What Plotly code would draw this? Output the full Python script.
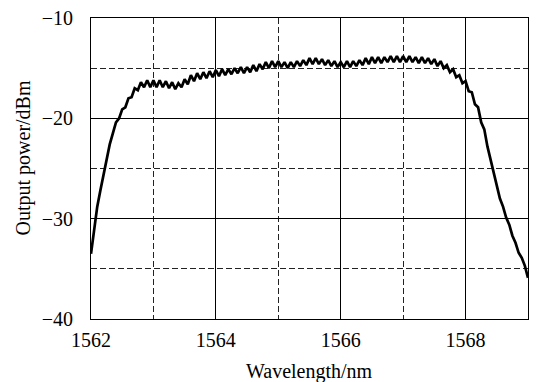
import plotly.graph_objects as go

# Sampling grid of the spectrum (nm), 0.05 nm steps from 1562 to 1569
wavelength = [round(1562 + 0.05 * i, 2) for i in range(141)]

# Output power (dBm)
power = [
    -33.5, -31.0, -28.8, -27.2, -25.6, -24.3, -22.6, -21.5, -20.4, -20.0,
    -19.1, -18.9, -18.0, -17.9, -17.0, -17.2, -16.4, -16.9, -16.2, -16.9,
    -16.2, -16.9, -16.2, -16.9, -16.3, -17.0, -16.4, -17.1, -16.5, -16.9,
    -16.1, -16.6, -15.7, -16.3, -15.5, -16.1, -15.4, -16.0, -15.3, -15.9,
    -15.2, -15.8, -15.1, -15.7, -15.1, -15.6, -15.0, -15.5, -14.9, -15.5,
    -14.9, -15.4, -14.7, -15.3, -14.6, -15.1, -14.4, -15.0, -14.3, -14.9,
    -14.3, -14.9, -14.4, -15.0, -14.4, -14.9, -14.3, -14.8, -14.2, -14.7,
    -14.0, -14.6, -14.0, -14.6, -14.1, -14.7, -14.2, -14.8, -14.3, -14.9,
    -14.4, -14.9, -14.3, -14.9, -14.3, -14.8, -14.2, -14.7, -14.0, -14.6,
    -13.9, -14.5, -13.9, -14.5, -13.9, -14.4, -13.8, -14.4, -13.8, -14.4,
    -13.8, -14.4, -13.8, -14.4, -13.9, -14.5, -13.9, -14.5, -14.0, -14.6,
    -14.1, -14.8, -14.3, -15.0, -14.7, -15.4, -15.1, -15.9, -15.7, -16.5,
    -16.3, -17.3, -17.4, -18.6, -18.9, -20.4, -21.1, -22.8, -24.1, -25.6,
    -26.7, -28.0, -28.8, -29.9, -30.6, -31.7, -32.4, -33.4, -33.9, -34.7,
    -35.9,
]

x_ticks = [1562, 1564, 1566, 1568]
x_ticktext = ["1562", "1564", "1566", "1568"]
y_ticks = [-40, -30, -20, -10]
y_ticktext = ["\u221240", "\u221230", "\u221220", "\u221210"]
x_title = "Wavelength/nm"
y_title = "Output power/dBm"

FONT = "'Liberation Serif', 'Times New Roman', serif"

fig = go.Figure()
fig.add_trace(go.Scatter(
    x=wavelength, y=power, mode="lines",
    line=dict(color="black", width=2.7),
    showlegend=False, hoverinfo="skip",
))

fig.update_layout(
    width=536, height=382,
    margin=dict(l=91, r=7, t=16, b=63),
    paper_bgcolor="white", plot_bgcolor="white",
    font=dict(family=FONT, size=20, color="black"),
)

fig.update_xaxes(
    range=[1562, 1569],
    tickvals=x_ticks, ticktext=x_ticktext,
    ticks="", ticklabelstandoff=3,
    showline=True, linecolor="black", linewidth=1, mirror=True,
    showgrid=True, gridcolor="black", gridwidth=1,
    minor=dict(tick0=1563, dtick=2, showgrid=True, gridcolor="#222",
               griddash="6px,3px", gridwidth=1),
    zeroline=False,
)
fig.update_yaxes(
    range=[-40, -10],
    tickvals=y_ticks, ticktext=y_ticktext,
    ticks="", ticklabelstandoff=13,
    showline=True, linecolor="black", linewidth=1, mirror=True,
    showgrid=True, gridcolor="black", gridwidth=1,
    minor=dict(tick0=-35, dtick=10, showgrid=True, gridcolor="#222",
               griddash="6px,3px", gridwidth=1),
    zeroline=False,
)

fig.add_annotation(
    text=x_title, xref="paper", yref="paper", x=0.5, y=0,
    xanchor="center", yanchor="middle", yshift=-52, showarrow=False,
    font=dict(family=FONT, size=20),
)
fig.add_annotation(
    text=y_title, xref="paper", yref="paper", x=0, y=0.5,
    xanchor="center", yanchor="middle", xshift=-68, yshift=10,
    textangle=-90, showarrow=False,
    font=dict(family=FONT, size=20),
)

fig.write_html(
    "out.html",
    config={"displayModeBar": False, "staticPlot": True},
    post_script="document.body.style.margin='0';document.body.style.overflow='hidden';",
)
